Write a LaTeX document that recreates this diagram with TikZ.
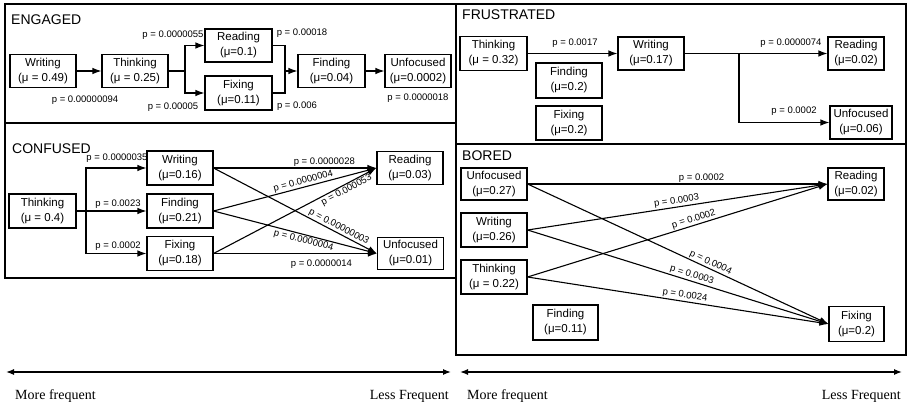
\documentclass[tikz,border=0pt]{standalone}
\usepackage{fontspec}
\setmainfont{Liberation Sans}
\newfontfamily\axisfont{Liberation Serif}
\usetikzlibrary{arrows.meta}

\begin{document}
\begin{tikzpicture}[x=1pt,y=-1pt,
  state/.style={draw, line width=1.1pt, align=center, inner sep=0pt,
    font=\fontsize{11.5}{15}\selectfont, minimum height=33pt, minimum width=66pt},
  plabel/.style={font=\fontsize{9.5}{11}\selectfont, inner sep=1pt},
  flow/.style={line width=1.1pt, -{Latex[length=9pt,width=6.5pt]}},
  wire/.style={line width=1.1pt},
  frame/.style={line width=1.3pt},
  title/.style={anchor=west, inner sep=0pt, font=\fontsize{14}{16}\selectfont},
  axis/.style={line width=1.3pt, {Latex[length=8pt,width=6pt]}-{Latex[length=8pt,width=6pt]}},
  axislabel/.style={inner sep=0pt, font=\axisfont\fontsize{14}{16}\selectfont},
]
\useasboundingbox (0,0) rectangle (908,406);

% panel frames
\draw[frame] (5,4) rectangle (456,278);
\draw[frame] (5,123) -- (456,123);
\draw[frame] (456,4) rectangle (906,355);
\draw[frame] (456,144) -- (906,144);

% ---------------- ENGAGED ----------------
\node[title] (tEng) at (11,20) {ENGAGED};
\node[state] (ew)  at (43,71)     {Writing\\(μ = 0.49)};
\node[state] (et)  at (135,71)    {Thinking\\(μ = 0.25)};
\node[state, minimum width=67pt] (er)  at (238.5,45.5) {Reading\\(μ=0.1)};
\node[state, minimum width=67pt, minimum height=34pt] (ef)  at (238.5,93) {Fixing\\(μ=0.11)};
\node[state, minimum width=67pt] (efd) at (331.5,71)  {Finding\\(μ=0.04)};
\node[state] (eu)  at (418,71)    {Unfocused\\(μ=0.0002)};

\coordinate (eb) at (185,71);
\coordinate (ej) at (285,71);
\draw[flow] (ew.east) -- (et.west);
\draw[wire] (et.east) -- (eb);
\draw[flow] (eb) |- (er.west);
\draw[flow] (eb) |- (ef.west);
\draw[wire] (er.east) -| (ej);
\draw[wire] (ef.east) -| (ej);
\draw[flow] (ej) -- (efd.west);
\draw[flow] (efd.east) -- (eu.west);

\node[plabel] (e1) at (85,100)  {p = 0.00000094};
\node[plabel] (e2) at (173,35)  {p = 0.0000055};
\node[plabel] (e3) at (173,107) {p = 0.00005};
\node[plabel] (e4) at (302,33)  {p = 0.00018};
\node[plabel] (e5) at (297,106) {p = 0.006};
\node[plabel] (e6) at (418,98)  {p = 0.0000018};

% ---------------- CONFUSED ----------------
\node[title] (tCon) at (12,149) {CONFUSED};
\node[state, minimum width=67pt, minimum height=34pt] (ct)  at (42.5,211) {Thinking\\(μ = 0.4)};
\node[state, minimum height=34pt] (cw)  at (180,168)   {Writing\\(μ=0.16)};
\node[state, minimum height=34pt] (cfd) at (180,211)   {Finding\\(μ=0.21)};
\node[state, minimum height=34pt] (cfx) at (180,253.5) {Fixing\\(μ=0.18)};
\node[state] (cr)  at (410,168)   {Reading\\(μ=0.03)};
\node[state, minimum height=32pt] (cu)  at (410.5,253.5) {Unfocused\\(μ=0.01)};

\coordinate (cb) at (86,211);
\draw[wire] (ct.east) -- (cb);
\draw[flow] (cb) |- (cw.west);
\draw[flow] (cb) -- (cfd.west);
\draw[flow] (cb) |- (cfx.west);

\node[plabel] (c0a) at (117,158) {p = 0.0000035};
\node[plabel] (c0b) at (118,204) {p = 0.0023};
\node[plabel] (c0c) at (118,246) {p = 0.0002};

\draw[flow] (cw.east) -- node[plabel, pos=0.68, above] (c1) {p = 0.0000028} (cr.west);
\draw[flow] (cw.east) -- node[plabel, pos=0.75, above, sloped] (c2) {p = 0.00000003} (cu.west);
\draw[flow] (cfd.east) -- node[plabel, pos=0.56, above, sloped] (c3) {p = 0.0000004} (cr.west);
\draw[flow] (cfd.east) -- node[plabel, pos=0.56, below, sloped] (c4) {p = 0.0000004} (cu.west);
\draw[flow] (cfx.east) -- node[plabel, pos=0.8, below, sloped] (c5) {p = 0.000053} (cr.west);
\draw[flow] (cfx.east) -- node[plabel, pos=0.66, below=5pt] (c6) {p = 0.0000014} (cu.west);

% ---------------- FRUSTRATED ----------------
\node[title] (tFru) at (462,15) {FRUSTRATED};
\node[state, minimum width=67pt, minimum height=34pt] (ft) at (493.5,53.5) {Thinking\\(μ = 0.32)};
\node[state] (fw)  at (651,53.5) {Writing\\(μ=0.17)};
\node[state, minimum height=35pt] (ffd) at (569,80.5) {Finding\\(μ=0.2)};
\node[state, minimum height=34pt] (ffx) at (569,123)  {Fixing\\(μ=0.2)};
\node[state, minimum width=56pt] (fr) at (856,53.5)  {Reading\\(μ=0.02)};
\node[state, minimum width=62pt] (fu) at (861,122.5) {Unfocused\\(μ=0.06)};

\coordinate (fb) at (739,53.5);
\draw[flow] (ft.east) -- (fw.west);
\draw[flow] (fw.east) -- (fr.west);
\draw[flow] (fb) |- (fu.west);

\node[plabel] (f1) at (575,43)  {p = 0.0017};
\node[plabel] (f2) at (791,43)  {p = 0.0000074};
\node[plabel] (f3) at (794,111) {p = 0.0002};

% ---------------- BORED ----------------
\node[title] (tBor) at (462,156) {BORED};
\node[state, minimum height=32pt] (bu) at (494,184) {Unfocused\\(μ=0.27)};
\node[state, minimum height=34pt] (bw) at (494,230) {Writing\\(μ=0.26)};
\node[state, minimum height=34pt] (bt) at (494,277) {Thinking\\(μ = 0.22)};
\node[state, minimum width=65pt, minimum height=35pt] (bfd) at (565.5,322.5) {Finding\\(μ=0.11)};
\node[state, minimum width=56pt, minimum height=32pt] (br)  at (856,184)   {Reading\\(μ=0.02)};
\node[state, minimum width=55pt, minimum height=35pt] (bfx) at (856.5,324) {Fixing\\(μ=0.2)};

\draw[flow] (bu.east) -- node[plabel, pos=0.58, above] (b1) {p = 0.0002} (br.west);
\draw[flow] (bw.east) -- node[plabel, pos=0.5, above, sloped] (b2) {p = 0.0003} (br.west);
\draw[flow] (bt.east) -- node[plabel, pos=0.56, above, sloped] (b3) {p = 0.0002} (br.west);
\draw[flow] (bu.east) -- node[plabel, pos=0.6, above, sloped] (b4) {p = 0.0004} (bfx.west);
\draw[flow] (bw.east) -- node[plabel, pos=0.54, above, sloped] (b5) {p = 0.0003} (bfx.west);
\draw[flow] (bt.east) -- node[plabel, pos=0.52, above, sloped] (b6) {p = 0.0024} (bfx.west);

% ---------------- frequency axes ----------------
\coordinate (a1) at (6,372);
\coordinate (a2) at (451,372);
\coordinate (a3) at (460,372);
\coordinate (a4) at (902,372);
\draw[axis] (a1) -- (a2);
\draw[axis] (a3) -- (a4);
\node[axislabel, anchor=west] (m1) at (15,396)  {More frequent};
\node[axislabel, anchor=east] (l1) at (449,396) {Less Frequent};
\node[axislabel, anchor=west] (m2) at (467,396) {More frequent};
\node[axislabel, anchor=east] (l2) at (901,396) {Less Frequent};
\end{tikzpicture}
\end{document}
